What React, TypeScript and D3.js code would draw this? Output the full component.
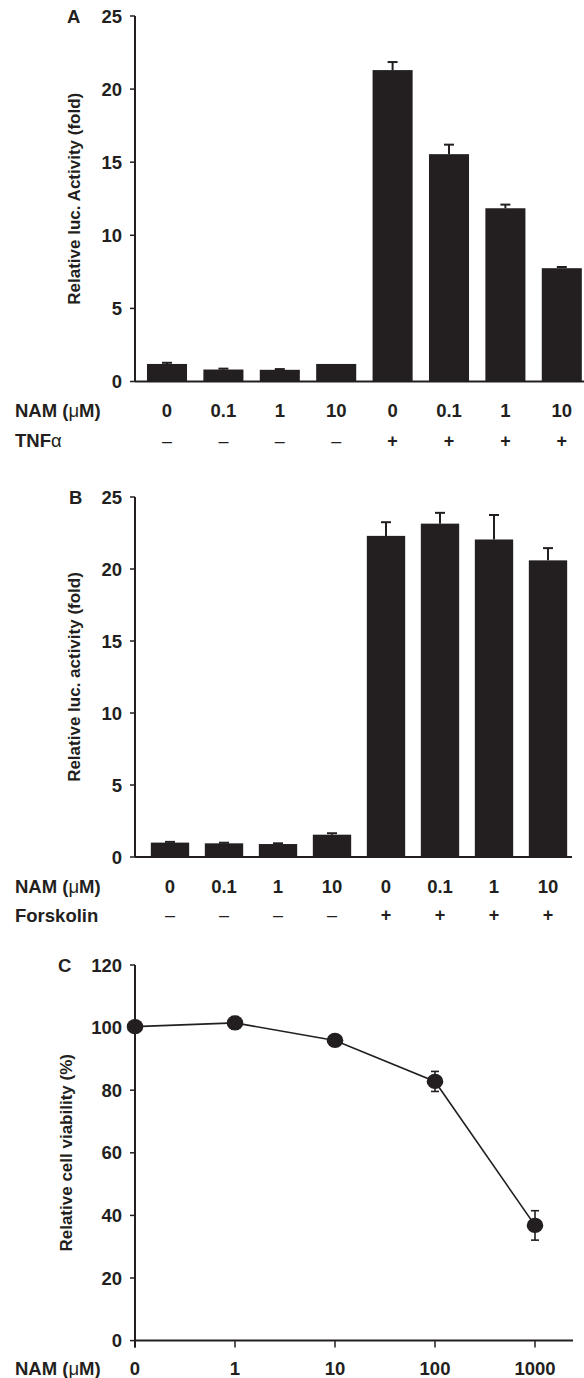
import React from "react";
import * as d3 from "d3";

const namLabels = ["0", "0.1", "1", "10", "0", "0.1", "1", "10"];
const treatSigns = ["–", "–", "–", "–", "+", "+", "+", "+"];

const aValues = [1.2, 0.82, 0.8, 1.2, 21.3, 15.55, 11.85, 7.75];
const aErrors = [0.08, 0.06, 0.05, 0, 0.55, 0.65, 0.25, 0.08];

const bValues = [1.0, 0.95, 0.9, 1.55, 22.3, 23.15, 22.05, 20.6];
const bErrors = [0.05, 0.04, 0.05, 0.1, 0.95, 0.75, 1.7, 0.85];

const barTicks = [0, 5, 10, 15, 20, 25];

const cDoses = ["0", "1", "10", "100", "1000"];
const cValues = [100.3, 101.5, 95.9, 82.8, 36.8];
const cErrors = [1, 2, 1, 3.2, 4.7];
const cTicks = [0, 20, 40, 60, 80, 100, 120];

const INK = "#231f20";
const FONT = "'Liberation Sans', Arial, Helvetica, sans-serif";

type BarPanelProps = {
  letter: string;
  title: string;
  treat: string;
  treatGreek?: string;
  values: number[];
  errors: number[];
  y0: number;
  y25: number;
  bandRange: [number, number];
  axisEnd: number;
  namY: number;
  treatY: number;
  letterX: number;
};

function BarPanel(p: BarPanelProps) {
  const y = d3.scaleLinear().domain([0, 25]).range([p.y0, p.y25]);
  const x = d3
    .scaleBand<number>()
    .domain(d3.range(p.values.length))
    .range(p.bandRange)
    .paddingInner(0.29)
    .paddingOuter(0.145);
  const axisX = 135;
  const bw = x.bandwidth();
  return (
    <g>
      <text x={p.letterX} y={p.y25} dy="0.36em" fontSize={18.5} fontWeight="bold" fill={INK}>
        {p.letter}
      </text>
      {p.values.map((v, i) => {
        const cx = (x(i) as number) + bw / 2;
        const e = p.errors[i];
        return (
          <g key={i}>
            <rect x={x(i)} y={y(v)} width={bw} height={y(0) - y(v)} fill={INK} />
            {e > 0 && (
              <g stroke={INK} strokeWidth={2}>
                <line x1={cx} x2={cx} y1={y(v)} y2={y(v + e)} />
                <line x1={cx - 5} x2={cx + 5} y1={y(v + e)} y2={y(v + e)} />
              </g>
            )}
          </g>
        );
      })}
      <line x1={axisX} x2={axisX} y1={p.y25} y2={p.y0} stroke={INK} strokeWidth={2} />
      <line x1={axisX} x2={p.axisEnd} y1={p.y0} y2={p.y0} stroke={INK} strokeWidth={2} />
      {barTicks.map((t) => (
        <g key={t}>
          <line x1={axisX - 5} x2={axisX} y1={y(t)} y2={y(t)} stroke={INK} strokeWidth={1.5} />
          <text
            x={122}
            y={y(t)}
            dy="0.36em"
            textAnchor="end"
            fontSize={18.5}
            fontWeight="bold"
            fill={INK}
          >
            {t}
          </text>
        </g>
      ))}
      <text
        transform={`translate(80, ${(p.y0 + p.y25) / 2}) rotate(-90)`}
        textAnchor="middle"
        fontSize={17}
        fontWeight="bold"
        fill={INK}
      >
        {p.title}
      </text>
      <text x={15} y={p.namY} dy="0.36em" fontSize={18.5} fontWeight="bold" fill={INK}>
        NAM (<tspan fontWeight="normal">μ</tspan>M)
      </text>
      <text x={15} y={p.treatY} dy="0.36em" fontSize={18.5} fontWeight="bold" fill={INK}>
        {p.treat}
        {p.treatGreek && <tspan fontWeight="normal">{p.treatGreek}</tspan>}
      </text>
      {namLabels.map((l, i) => (
        <text
          key={i}
          x={(x(i) as number) + bw / 2}
          y={p.namY}
          dy="0.36em"
          textAnchor="middle"
          fontSize={18.5}
          fontWeight="bold"
          fill={INK}
        >
          {l}
        </text>
      ))}
      {treatSigns.map((s, i) => (
        <text
          key={i}
          x={(x(i) as number) + bw / 2}
          y={p.treatY}
          dy="0.36em"
          textAnchor="middle"
          fontSize={18}
          fontWeight={s === "+" ? "bold" : "normal"}
          fill={INK}
        >
          {s}
        </text>
      ))}
    </g>
  );
}

function LinePanel() {
  const y = d3.scaleLinear().domain([0, 120]).range([1340.6, 965]);
  const x = d3.scalePoint<string>().domain(cDoses).range([135, 535]);
  const axisX = 135;
  const line = d3
    .line<number>()
    .x((_, i) => x(cDoses[i]) as number)
    .y((v) => y(v));
  return (
    <g>
      <text x={58} y={y(120)} dy="0.36em" fontSize={18.5} fontWeight="bold" fill={INK}>
        C
      </text>
      <line x1={axisX} x2={axisX} y1={y(120)} y2={y(0) + 7} stroke={INK} strokeWidth={2} />
      <line x1={axisX} x2={573} y1={y(0)} y2={y(0)} stroke={INK} strokeWidth={2} />
      {cTicks.map((t) => (
        <g key={t}>
          <line x1={axisX - 5} x2={axisX} y1={y(t)} y2={y(t)} stroke={INK} strokeWidth={1.5} />
          <text
            x={122}
            y={y(t)}
            dy="0.36em"
            textAnchor="end"
            fontSize={18.5}
            fontWeight="bold"
            fill={INK}
          >
            {t}
          </text>
        </g>
      ))}
      {cDoses.map((d) => (
        <g key={d}>
          <line
            x1={x(d)}
            x2={x(d)}
            y1={y(0)}
            y2={y(0) + 7}
            stroke={INK}
            strokeWidth={1.5}
          />
          <text
            x={x(d)}
            y={1368}
            dy="0.36em"
            textAnchor="middle"
            fontSize={18.5}
            fontWeight="bold"
            fill={INK}
          >
            {d}
          </text>
        </g>
      ))}
      <text x={15} y={1368} dy="0.36em" fontSize={18.5} fontWeight="bold" fill={INK}>
        NAM (<tspan fontWeight="normal">μ</tspan>M)
      </text>
      <text
        transform={`translate(72, ${(y(0) + y(120)) / 2}) rotate(-90)`}
        textAnchor="middle"
        fontSize={17}
        fontWeight="bold"
        fill={INK}
      >
        Relative cell viability (%)
      </text>
      <path d={line(cValues) || ""} fill="none" stroke={INK} strokeWidth={1.6} />
      {cValues.map((v, i) => {
        const cx = x(cDoses[i]) as number;
        const e = cErrors[i];
        return (
          <g key={i}>
            <g stroke={INK} strokeWidth={1.6}>
              <line x1={cx} x2={cx} y1={y(v - e)} y2={y(v + e)} />
              <line x1={cx - 4} x2={cx + 4} y1={y(v + e)} y2={y(v + e)} />
              <line x1={cx - 4} x2={cx + 4} y1={y(v - e)} y2={y(v - e)} />
            </g>
            <ellipse cx={cx} cy={y(v)} rx={8.3} ry={7.6} fill={INK} />
          </g>
        );
      })}
    </g>
  );
}

export default function App() {
  return (
    <svg
      width={584}
      height={1378}
      style={{ position: "absolute", left: 0, top: 0, display: "block", background: "#fff" }}
      fontFamily={FONT}
    >
      <rect width={584} height={1378} fill="#fff" />
      <BarPanel
        letter="A"
        title="Relative luc. Activity (fold)"
        treat="TNF"
        treatGreek="α"
        values={aValues}
        errors={aErrors}
        y0={381.5}
        y25={16}
        bandRange={[138.8, 590]}
        axisEnd={584}
        namY={410.7}
        treatY={440.7}
        letterX={67}
      />
      <BarPanel
        letter="B"
        title="Relative luc. activity (fold)"
        treat="Forskolin"
        values={bValues}
        errors={bErrors}
        y0={857}
        y25={497}
        bandRange={[143, 575]}
        axisEnd={572}
        namY={886}
        treatY={915}
        letterX={69}
      />
      <LinePanel />
    </svg>
  );
}
